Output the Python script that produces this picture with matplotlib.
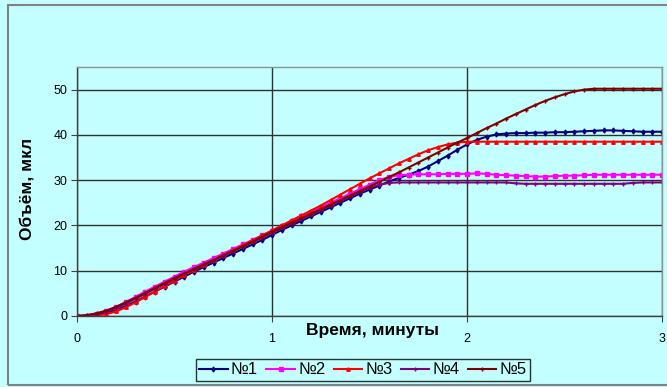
import matplotlib
matplotlib.use('Agg')
import matplotlib.pyplot as plt
from matplotlib.patches import Rectangle
import numpy as np

plt.rcParams['font.family'] = ['Liberation Sans', 'DejaVu Sans']

# time in minutes, step 0.05
t = [0.00, 0.05, 0.10, 0.15, 0.20, 0.25, 0.30, 0.35, 0.40, 0.45,
     0.50, 0.55, 0.60, 0.65, 0.70, 0.75, 0.80, 0.85, 0.90, 0.95,
     1.00, 1.05, 1.10, 1.15, 1.20, 1.25, 1.30, 1.35, 1.40, 1.45,
     1.50, 1.55, 1.60, 1.65, 1.70, 1.75, 1.80, 1.85, 1.90, 1.95,
     2.00, 2.05, 2.10, 2.15, 2.20, 2.25, 2.30, 2.35, 2.40, 2.45,
     2.50, 2.55, 2.60, 2.65, 2.70, 2.75, 2.80, 2.85, 2.90, 2.95, 3.00]

v1 = [0.0, 0.0, 0.2, 0.6, 1.3, 2.2, 3.2, 4.3, 5.4, 6.5,
      7.6, 8.7, 9.8, 10.8, 11.8, 12.8, 13.8, 14.8, 15.8, 16.8,
      17.9, 19.0, 20.0, 21.0, 22.0, 23.0, 24.0, 25.0, 26.0, 27.0,
      27.9, 28.8, 29.7, 30.5, 31.2, 32.0, 33.0, 34.2, 35.4, 36.7,
      37.9, 38.9, 39.6, 40.1, 40.3, 40.4, 40.4, 40.5, 40.5, 40.6,
      40.6, 40.7, 40.8, 40.9, 41.0, 41.0, 40.9, 40.8, 40.7, 40.7, 40.7]

v2 = [0.0, 0.1, 0.5, 1.1, 2.0, 3.1, 4.2, 5.4, 6.5, 7.6,
      8.7, 9.8, 10.8, 11.8, 12.8, 13.8, 14.8, 15.8, 16.8, 17.8,
      18.8, 19.9, 21.0, 22.0, 23.0, 24.0, 25.0, 26.0, 27.0, 28.0,
      29.0, 30.0, 30.7, 31.1, 31.2, 31.3, 31.3, 31.3, 31.4, 31.4,
      31.4, 31.5, 31.4, 31.2, 31.1, 31.0, 30.9, 30.8, 30.8, 30.9,
      31.0, 31.0, 31.1, 31.2, 31.2, 31.2, 31.2, 31.2, 31.2, 31.2, 31.2]

v3 = [0.0, 0.0, 0.1, 0.4, 1.0, 1.9, 3.0, 4.2, 5.4, 6.6,
      7.8, 9.0, 10.1, 11.2, 12.3, 13.4, 14.5, 15.6, 16.7, 17.8,
      18.9, 20.0, 21.1, 22.2, 23.3, 24.4, 25.6, 26.8, 28.0, 29.2,
      30.4, 31.5, 32.6, 33.7, 34.7, 35.7, 36.6, 37.3, 37.9, 38.3,
      38.5, 38.5, 38.5, 38.5, 38.5, 38.5, 38.5, 38.5, 38.5, 38.5,
      38.5, 38.5, 38.5, 38.5, 38.5, 38.5, 38.5, 38.5, 38.5, 38.5, 38.5]

v4 = [0.0, 0.1, 0.4, 0.9, 1.7, 2.7, 3.8, 4.9, 6.0, 7.1,
      8.2, 9.3, 10.3, 11.3, 12.3, 13.3, 14.3, 15.3, 16.3, 17.3,
      18.4, 19.4, 20.4, 21.4, 22.4, 23.4, 24.4, 25.4, 26.4, 27.4,
      28.3, 29.0, 29.4, 29.5, 29.5, 29.5, 29.5, 29.5, 29.5, 29.5,
      29.5, 29.5, 29.5, 29.5, 29.5, 29.3, 29.2, 29.2, 29.2, 29.2,
      29.2, 29.2, 29.2, 29.2, 29.2, 29.2, 29.2, 29.4, 29.5, 29.5, 29.5]

v5 = [0.0, 0.2, 0.6, 1.2, 2.0, 3.0, 4.0, 5.1, 6.2, 7.3,
      8.4, 9.4, 10.4, 11.4, 12.4, 13.4, 14.4, 15.4, 16.4, 17.5,
      18.6, 19.6, 20.6, 21.6, 22.6, 23.6, 24.6, 25.6, 26.6, 27.6,
      28.6, 29.6, 30.7, 31.7, 32.8, 33.9, 35.0, 36.1, 37.2, 38.3,
      39.3, 40.4, 41.5, 42.5, 43.6, 44.6, 45.6, 46.6, 47.5, 48.3,
      49.0, 49.6, 50.0, 50.2, 50.2, 50.2, 50.2, 50.2, 50.2, 50.2, 50.2]

names = ['№1', '№2', '№3', '№4', '№5']
colors = ['#000080', '#FF00FF', '#FF0000', '#800080', '#800000']
markers = ['d', 's', '^', '+', '+']
series = [v1, v2, v3, v4, v5]

bg = '#C4FFFF'
fig = plt.figure(figsize=(6.67, 3.87), dpi=100, facecolor=bg)
# outer frame of the chart
fig.patches.append(Rectangle((8 / 667, 2 / 387), 1.0, 1 - 7 / 387,
                             transform=fig.transFigure, fill=False,
                             edgecolor='#808080', linewidth=1.5))

ax = fig.add_axes([77 / 667, 1 - 316 / 387, 585 / 667, 249 / 387])
ax.set_facecolor(bg)

for v, n, c, m in zip(series, names, colors, markers):
    ax.plot(t, v, color=c, linewidth=1.5, marker=m, markersize=2.5,
            markeredgewidth=1, label=n)

ax.set_xlim(0, 3)
ax.set_ylim(0, 55)
ax.set_xticks([0, 1, 2, 3])
ax.set_yticks([0, 10, 20, 30, 40, 50])
ax.grid(True, color='#303030', linewidth=1)
ax.set_axisbelow(True)
ax.tick_params(labelsize=9, length=4, color='#404040', pad=3)
ax.tick_params(axis='x', pad=8)
for s in ax.spines.values():
    s.set_color('#909090')
    s.set_linewidth(1)
ax.spines['left'].set_color('#404040')
ax.spines['bottom'].set_color('#404040')

fig.text(372 / 667, 1 - 331 / 387, 'Время, минуты', ha='center', va='center',
         fontsize=12.5, fontweight='bold')
fig.text(27 / 667, 1 - 189 / 387, 'Объём, мкл', ha='center', va='center',
         fontsize=12.5, fontweight='bold', rotation=90)

leg = fig.legend(loc='center', bbox_to_anchor=(363 / 667, 1 - 370 / 387),
                 ncol=5, fontsize=12, frameon=True, fancybox=False,
                 handlelength=1.7, handletextpad=0.2, columnspacing=0.5,
                 borderpad=0.2, borderaxespad=0, facecolor=bg,
                 edgecolor='black')
leg.get_frame().set_linewidth(1)

fig.savefig('out.png', dpi=100, facecolor=bg)
